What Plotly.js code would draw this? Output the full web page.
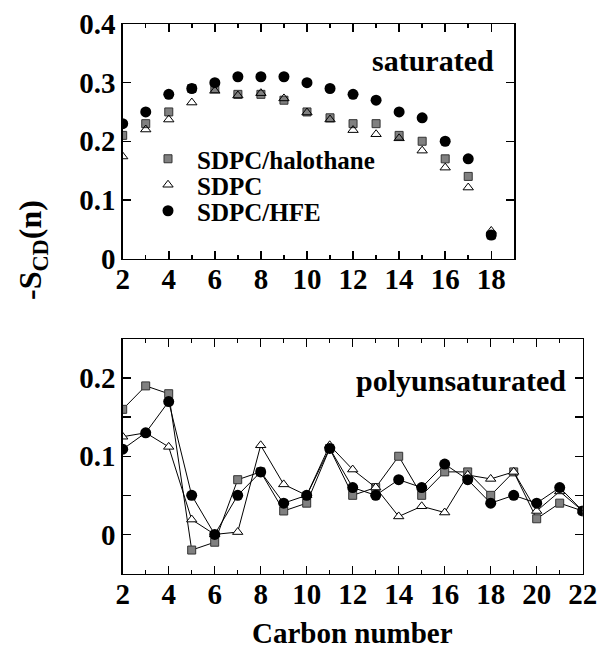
<!DOCTYPE html>
<html>
<head>
<meta charset="utf-8">
<script src="https://cdn.plot.ly/plotly-3.0.1.min.js"></script>
<style>html,body{margin:0;padding:0;background:#fff;}#chart{width:598px;height:650px;}</style>
</head>
<body>
<div id="chart"></div>
<script>
// ---- data ----
const carbonsSat = [2,3,4,5,6,7,8,9,10,11,12,13,14,15,16,17,18];
const halothaneSat = [0.21,0.23,0.25,0.29,0.29,0.28,0.28,0.27,0.25,0.24,0.23,0.23,0.21,0.20,0.17,0.14,0.04];
const sdpcSat      = [0.174,0.22,0.237,0.266,0.286,0.278,0.282,0.273,0.249,0.237,0.219,0.212,0.205,0.184,0.155,0.121,0.047];
const hfeSat       = [0.23,0.25,0.28,0.29,0.30,0.31,0.31,0.31,0.30,0.29,0.28,0.27,0.25,0.24,0.20,0.17,0.04];

const carbonsPoly = [2,3,4,5,6,7,8,9,10,11,12,13,14,15,16,17,18,19,20,21,22];
const halothanePoly = [0.16,0.19,0.18,-0.02,-0.01,0.07,0.08,0.03,0.04,0.11,0.05,0.06,0.10,0.05,0.08,0.08,0.05,0.08,0.02,0.04,0.03];
const sdpcPoly      = [0.125,0.13,0.112,0.019,0.0,0.003,0.114,0.064,0.05,0.114,0.083,0.06,0.023,0.036,0.028,0.076,0.071,0.08,0.03,0.055,0.03];
const hfePoly       = [0.109,0.13,0.17,0.05,0.0,0.05,0.08,0.04,0.05,0.11,0.06,0.05,0.07,0.06,0.09,0.07,0.04,0.05,0.04,0.06,0.03];

const seriesNames = ['SDPC/halothane','SDPC','SDPC/HFE'];

// ---- styles ----
const sqM  = {symbol:'square', size:8, color:'#808080', line:{color:'#333', width:1}};
const triM = {symbol:'triangle-up-open', size:9, color:'#000', line:{width:1}};
const cirM = {symbol:'circle', size:11, color:'#000'};
const lineS = {color:'#000', width:1};

const traces = [
  {x:carbonsSat, y:halothaneSat, name:seriesNames[0], mode:'markers', marker:sqM, xaxis:'x', yaxis:'y', legend:'legend'},
  {x:carbonsSat, y:sdpcSat, name:seriesNames[1], mode:'markers', marker:triM, xaxis:'x', yaxis:'y', legend:'legend2'},
  {x:carbonsSat, y:hfeSat, name:seriesNames[2], mode:'markers', marker:cirM, xaxis:'x', yaxis:'y', legend:'legend3'},
  {x:carbonsPoly, y:halothanePoly, name:seriesNames[0], mode:'lines+markers', marker:sqM, line:lineS, xaxis:'x2', yaxis:'y2', showlegend:false},
  {x:carbonsPoly, y:sdpcPoly, name:seriesNames[1], mode:'lines+markers', marker:{symbol:'triangle-up', size:9, color:'#fff', line:{color:'#000', width:1}}, line:lineS, xaxis:'x2', yaxis:'y2', showlegend:false},
  {x:carbonsPoly, y:hfePoly, name:seriesNames[2], mode:'lines+markers', marker:cirM, line:lineS, xaxis:'x2', yaxis:'y2', showlegend:false}
];

const tf = {family:'Liberation Serif', size:29, weight:'bold', color:'#000'};
const axBase = {showline:true, linewidth:1.5, linecolor:'#000', mirror:'ticks', ticks:'inside', ticklen:8, tickwidth:1.5, tickcolor:'#000', showgrid:false, zeroline:false, tickfont:tf};
const legFont = {family:'Liberation Serif', size:25, weight:'bold', color:'#000'};
function leg(topPx){
  return {x:139/598, y:1-topPx/650, xanchor:'left', yanchor:'top', bgcolor:'rgba(0,0,0,0)', font:legFont, itemwidth:48};
}

const layout = {
  width:598, height:650,
  margin:{l:0, r:0, t:0, b:0},
  paper_bgcolor:'#fff', plot_bgcolor:'#fff',
  showlegend:true,
  legend:leg(136), legend2:leg(162), legend3:leg(188),
  xaxis: Object.assign({}, axBase, {domain:[122.7/598, 514.3/598], anchor:'y', range:[2,19], tick0:2, dtick:2, ticklabelstandoff:-6,
    minor:{dtick:1, ticks:'inside', ticklen:4, tickwidth:1.5, tickcolor:'#000'}}),
  yaxis: Object.assign({}, axBase, {domain:[1-258.5/650, 1-24/650], anchor:'x', range:[0,0.4], dtick:0.1, tick0:0}),
  xaxis2: Object.assign({}, axBase, {domain:[122.7/598, 582.7/598], anchor:'y2', range:[2,22], tick0:2, dtick:2, ticklabelstandoff:-6,
    minor:{dtick:1, ticks:'inside', ticklen:4, tickwidth:1.5, tickcolor:'#000'}}),
  yaxis2: Object.assign({}, axBase, {domain:[1-573.5/650, 1-339/650], anchor:'x2', range:[-0.05,0.25], tick0:0, dtick:0.1,
    minor:{tick0:0, dtick:0.05, ticks:'inside', ticklen:8, tickwidth:1.5, tickcolor:'#000'}}),
  annotations:[
    {text:'<b>saturated</b>', xref:'paper', yref:'paper', x:496/598, y:1-61/650, xanchor:'right', yanchor:'middle', showarrow:false, font:{family:'Liberation Serif', size:30, color:'#000'}},
    {text:'<b>polyunsaturated</b>', xref:'paper', yref:'paper', x:568/598, y:1-380/650, xanchor:'right', yanchor:'middle', showarrow:false, font:{family:'Liberation Serif', size:30, color:'#000'}},
    {text:'<b>Carbon number</b>', xref:'paper', yref:'paper', x:352.7/598, y:0, xanchor:'center', yanchor:'bottom', borderpad:0, showarrow:false, font:{family:'Liberation Serif', size:29, color:'#000'}},
    {text:'<b>-S<sub>CD</sub>(n)</b>', xref:'paper', yref:'paper', x:33/598, y:1-250/650, xanchor:'center', yanchor:'middle', textangle:-90, showarrow:false, font:{family:'Liberation Serif', size:32, color:'#000'}}
  ]
};

Plotly.newPlot('chart', traces, layout, {displayModeBar:false, staticPlot:true});
</script>
</body>
</html>
